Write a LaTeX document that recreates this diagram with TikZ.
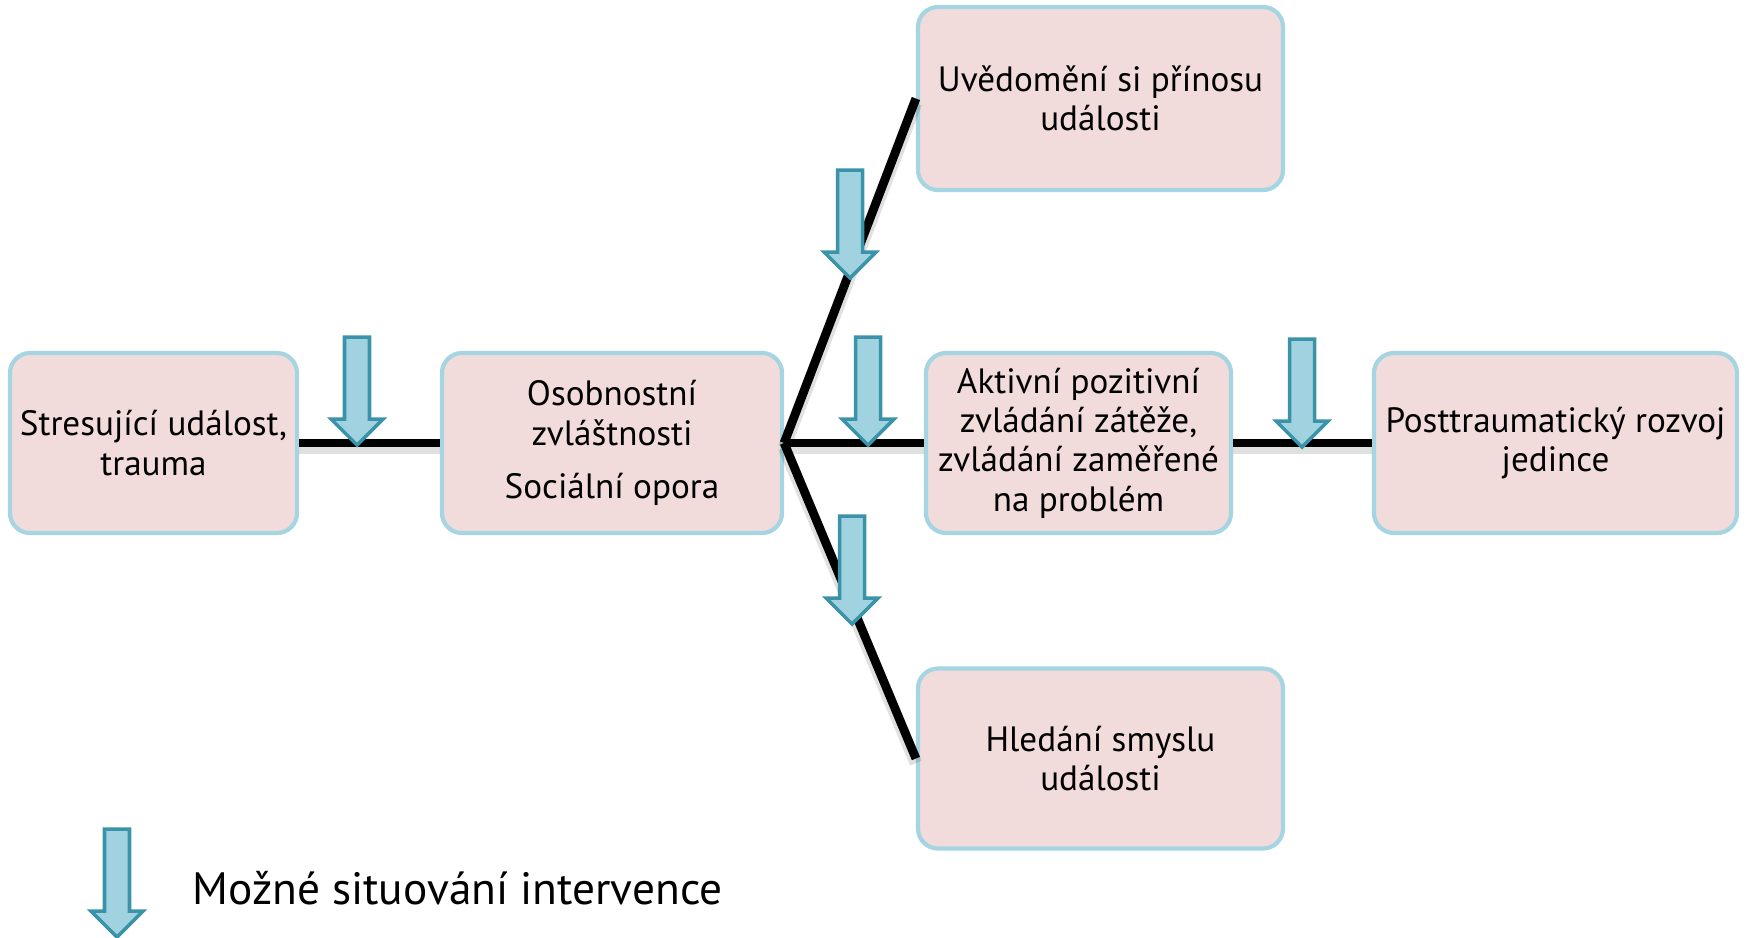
\documentclass[tikz,border=0pt]{standalone}
\usepackage{fontspec}
\setmainfont{PT Sans}
\usetikzlibrary{positioning,calc}

\definecolor{boxfill}{HTML}{F2DCDB}
\definecolor{boxline}{HTML}{A5D5E2}
\definecolor{arrfill}{HTML}{A0D2DF}
\definecolor{arrline}{HTML}{3B93AA}

\tikzset{
  stage/.style={draw=boxline, fill=boxfill, line width=1.2pt, rounded corners=0.2cm,
    minimum height=1.8cm, align=center, inner sep=2pt,
    font=\fontsize{10}{11.2}\selectfont},
  link/.style={line width=2.5pt, black,
    preaction={draw=black, opacity=0.12, line width=3.6pt, transform canvas={yshift=-1.3pt}}},
  intervence/.pic={
    \draw[arrline, fill=arrfill, line width=1pt]
      (0,0) -- (-0.26,0.26) -- (-0.125,0.26) -- (-0.125,1.08)
      -- (0.125,1.08) -- (0.125,0.26) -- (0.26,0.26) -- cycle;
  }
}

\begin{document}
\begin{tikzpicture}
    \useasboundingbox (0,0) rectangle (17.47,-9.37);

    % Stages
    \node[stage, minimum width=2.87cm] (stres) at (1.535,-4.43) {Stresující událost,\\trauma};
    \node[stage, minimum width=3.40cm] (osob) at (6.12,-4.43) {Osobnostní\\zvláštnosti\\[4pt]Sociální opora};
    \node[stage, minimum width=3.05cm] (aktiv) at (10.785,-4.43) {Aktivní pozitivní\\zvládání zátěže,\\zvládání zaměřené\\na problém};
    \node[stage, minimum width=3.63cm] (rozvoj) at (15.555,-4.43) {Posttraumatický rozvoj\\jedince};
    \node[stage, minimum width=3.65cm, minimum height=1.83cm] (prinos) at (11.005,-0.985) {Uvědomění si přínosu\\události};
    \node[stage, minimum width=3.65cm] (smysl) at (11.005,-7.585) {Hledání smyslu\\události};

    % Links
    \draw[link] (stres.east) -- (osob.west);
    \draw[link] (osob.east) -- (aktiv.west);
    \draw[link] (aktiv.east) -- (rozvoj.west);
    \draw[link] (osob.east) -- (prinos.west);
    \draw[link] (osob.east) -- (smysl.west);

    % Interventions
    \pic at (3.57,-4.45) {intervence};
    \pic at (8.50,-2.78) {intervence};
    \pic at (8.68,-4.45) {intervence};
    \pic at (8.52,-6.24) {intervence};
    \pic at (13.02,-4.47) {intervence};

    % Legend
    \pic at (1.17,-9.37) {intervence};
    \node[anchor=west, font=\fontsize{12.9}{15}\selectfont, inner sep=0pt] (legenda) at (1.92,-8.88) {Možné situování intervence};
\end{tikzpicture}
\end{document}
